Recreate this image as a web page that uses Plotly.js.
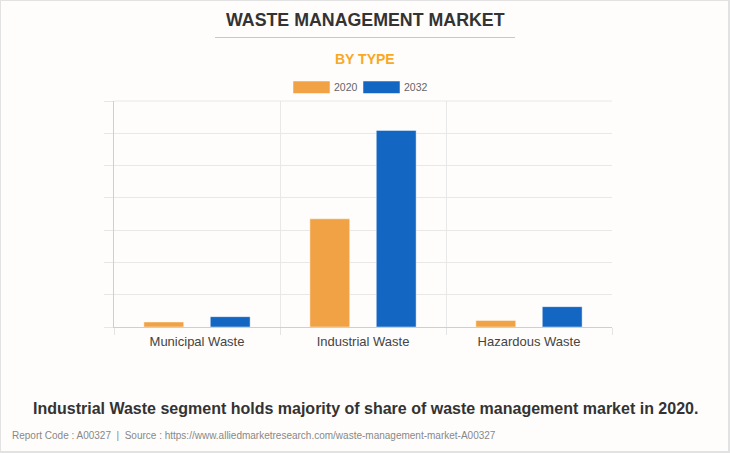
<!DOCTYPE html>
<html>
<head>
<meta charset="utf-8">
<script src="https://cdn.plot.ly/plotly-3.0.1.min.js"></script>
<style>
  html, body { margin: 0; padding: 0; background: #fefdfb; }
  #wrap { position: relative; width: 730px; height: 453px; }
  #chart { width: 730px; height: 453px; }
  #frame { position: absolute; left: 0; top: 0; width: 730px; height: 453px; box-sizing: border-box; border-top: 1px solid #e2e2e2; border-left: 1px solid #e2e2e2; border-right: 2px solid #e2e2e2; border-bottom: 2px solid #e2e2e2; pointer-events: none; }
</style>
</head>
<body>
<div id="wrap"><div id="chart"></div><div id="frame"></div></div>
<script>
const categories = ["Municipal Waste", "Industrial Waste", "Hazardous Waste"];
const seriesNames = ["2020", "2032"];
const values2020 = [15.5, 335, 20];
const values2032 = [32, 609, 63];

const chartTitle = "WASTE MANAGEMENT MARKET";
const chartSubtitle = "BY TYPE";
const caption = "Industrial Waste segment holds majority of share of waste management market in 2020.";
const footer = "Report Code : A00327  |  Source : https://www.alliedmarketresearch.com/waste-management-market-A00327";

const colors = ["#f0a244", "#1366c1"];
const font = "Liberation Sans, Arial, sans-serif";

const traces = [values2020, values2032].map((vals, i) => ({
  type: "bar",
  name: seriesNames[i],
  x: categories,
  y: vals,
  marker: { color: colors[i], line: { color: "rgba(255,255,255,0.45)", width: 1 } },
  hoverinfo: "none"
}));

const W = 730, H = 453;
const plotL = 114, plotR = 612, plotT = 101, plotB = 327;
const ax = (x) => (x - plotL) / (plotR - plotL);
const ay = (y) => (plotB - y) / (plotB - plotT);

const layout = {
  width: W, height: H,
  paper_bgcolor: "rgba(0,0,0,0)",
  plot_bgcolor: "rgba(0,0,0,0)",
  margin: { l: plotL, r: W - plotR, t: plotT, b: H - plotB, pad: 0 },
  barmode: "group",
  bargap: 0.2,
  bargroupgap: 0.4,
  showlegend: false,
  font: { family: font },
  xaxis: {
    type: "category",
    tickson: "boundaries",
    ticks: "outside", ticklen: 7, tickcolor: "#e4e4e4",
    ticklabelstandoff: 2,
    showgrid: true, gridcolor: "#e8e8e8", gridwidth: 1,
    showline: true, linecolor: "#cfcfcf", linewidth: 1,
    tickfont: { family: font, size: 13, color: "#444" },
    fixedrange: true
  },
  yaxis: {
    range: [0, 700], dtick: 100,
    showticklabels: false,
    ticks: "outside", ticklen: 9, tickcolor: "#e6e6e6",
    showgrid: true, gridcolor: "#e8e8e8", gridwidth: 1,
    zeroline: false,
    showline: true, linecolor: "#cfcfcf", linewidth: 1,
    fixedrange: true
  },
  shapes: [
    { type: "line", xref: "paper", yref: "paper", x0: 0, x1: 1, y0: 1, y1: 1, line: { color: "#e8e8e8", width: 1 }, layer: "below" },
    { type: "line", xref: "paper", yref: "paper", x0: ax(215), x1: ax(515), y0: ay(37.5), y1: ay(37.5), line: { color: "#c8c8c8", width: 1 } },
    { type: "rect", xref: "paper", yref: "paper", x0: ax(293), x1: ax(330), y0: ay(93.5), y1: ay(81), fillcolor: colors[0], line: { color: "rgba(255,255,255,0.5)", width: 1 } },
    { type: "rect", xref: "paper", yref: "paper", x0: ax(363), x1: ax(400), y0: ay(93.5), y1: ay(81), fillcolor: colors[1], line: { color: "rgba(255,255,255,0.5)", width: 1 } }
  ],
  annotations: [
    { text: "<b>" + chartTitle + "</b>", xref: "paper", yref: "paper", x: ax(365), y: ay(20), xanchor: "center", yanchor: "middle", showarrow: false, font: { family: font, size: 17.8, color: "#333" } },
    { text: "<b>" + chartSubtitle + "</b>", xref: "paper", yref: "paper", x: ax(365), y: ay(58.5), xanchor: "center", yanchor: "middle", showarrow: false, font: { family: font, size: 14, color: "#f9a825" } },
    { text: seriesNames[0], xref: "paper", yref: "paper", x: ax(332), y: ay(87), xanchor: "left", yanchor: "middle", showarrow: false, font: { family: font, size: 10.5, color: "#666" } },
    { text: seriesNames[1], xref: "paper", yref: "paper", x: ax(402), y: ay(87), xanchor: "left", yanchor: "middle", showarrow: false, font: { family: font, size: 10.5, color: "#666" } },
    { text: "<b>" + caption + "</b>", xref: "paper", yref: "paper", x: ax(365), y: ay(408), xanchor: "center", yanchor: "middle", showarrow: false, font: { family: font, size: 16, color: "#333" } },
    { text: footer, xref: "paper", yref: "paper", x: ax(10), y: ay(435), xanchor: "left", yanchor: "middle", showarrow: false, font: { family: font, size: 10, color: "#888" } }
  ]
};

Plotly.newPlot("chart", traces, layout, { displayModeBar: false, staticPlot: true });
</script>
</body>
</html>
